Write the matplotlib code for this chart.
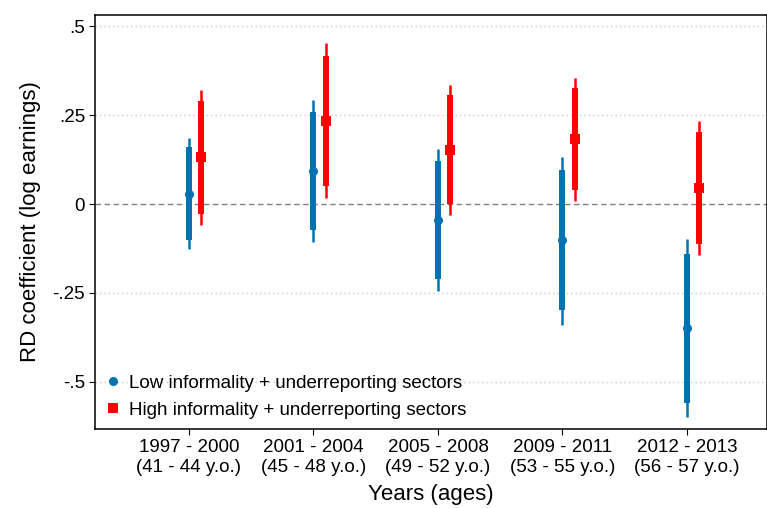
import numpy as np
import matplotlib

matplotlib.use('Agg')
import matplotlib.pyplot as plt
from matplotlib.lines import Line2D

plt.rcParams['font.family'] = ['Liberation Sans', 'DejaVu Sans']

# Periods and age ranges on the x axis
periods = ['1997 - 2000', '2001 - 2004', '2005 - 2008', '2009 - 2011', '2012 - 2013']
ages = ['(41 - 44 y.o.)', '(45 - 48 y.o.)', '(49 - 52 y.o.)', '(53 - 55 y.o.)', '(56 - 57 y.o.)']

# Low informality + underreporting sectors: point estimate, 90% and 95% CI
low_coef = [0.029, 0.094, -0.046, -0.102, -0.350]
low_lo90 = [-0.101, -0.073, -0.212, -0.299, -0.560]
low_hi90 = [0.160, 0.260, 0.121, 0.095, -0.140]
low_lo95 = [-0.127, -0.106, -0.244, -0.339, -0.600]
low_hi95 = [0.186, 0.293, 0.154, 0.133, -0.099]

# High informality + underreporting sectors
high_coef = [0.131, 0.234, 0.151, 0.182, 0.044]
high_lo90 = [-0.027, 0.052, -0.001, 0.039, -0.113]
high_hi90 = [0.289, 0.417, 0.306, 0.327, 0.204]
high_lo95 = [-0.058, 0.016, -0.031, 0.009, -0.144]
high_hi95 = [0.320, 0.452, 0.336, 0.356, 0.235]

BLUE = '#0072b2'
RED = '#ff0000'
OFFSET = 0.1


def draw_series(ax, xs, coef, lo90, hi90, lo95, hi95, color, marker, msize):
    ax.vlines(xs, lo95, hi95, colors=color, linewidth=1.8, capstyle='butt', zorder=3)
    ax.vlines(xs, lo90, hi90, colors=color, linewidth=4.3, capstyle='butt', zorder=4)
    ax.plot(xs, coef, linestyle='none', marker=marker, color=color,
            markersize=msize, markeredgewidth=0, zorder=5)


fig = plt.figure(figsize=(7.67, 5.08), dpi=100)
ax = fig.add_axes([0.1245, 0.1555, 0.8755, 0.815])

x = np.arange(1, len(periods) + 1)
draw_series(ax, x, low_coef, low_lo90, low_hi90, low_lo95, low_hi95, BLUE, 'o', 6.5)
draw_series(ax, x + OFFSET, high_coef, high_lo90, high_hi90, high_lo95, high_hi95, RED, 's', 7)

yticks = [-0.5, -0.25, 0, 0.25, 0.5]
for yt in yticks:
    if yt == 0:
        ax.axhline(0, color='#808080', linewidth=1.0, linestyle=(0, (4, 2.5)), zorder=1)
    else:
        ax.axhline(yt, color='#c8c8c8', linewidth=1.0, linestyle=(0, (1, 2.2)), zorder=1)

ax.set_xlim(0.249, 5.643)
ax.set_ylim(-0.633, 0.532)
ax.set_xticks(x)
ax.set_xticklabels([p + '\n' + a for p, a in zip(periods, ages)], fontsize=13.5)
ax.set_yticks(yticks)
ax.set_yticklabels(['-.5', '-.25', '0', '.25', '.5'], fontsize=13.5)
ax.tick_params(axis='both', direction='out', length=4.5, width=0.8, color='black', pad=3)

for s in ax.spines.values():
    s.set_linewidth(1.1)

ax.set_xlabel('Years (ages)', fontsize=16, labelpad=6)
ax.set_ylabel('RD coefficient (log earnings)', fontsize=16, labelpad=8)

handles = [
    Line2D([], [], linestyle='none', marker='o', color=BLUE, markersize=6.5, markeredgewidth=0),
    Line2D([], [], linestyle='none', marker='s', color=RED, markersize=7, markeredgewidth=0),
]
ax.legend(handles, ['Low informality + underreporting sectors',
                    'High informality + underreporting sectors'],
          loc='lower left', bbox_to_anchor=(-0.008, -0.012), frameon=False, fontsize=13.5,
          handlelength=0.8, handletextpad=0.45, labelspacing=0.55, borderaxespad=0.4)

fig.savefig('out.png', dpi=100)
